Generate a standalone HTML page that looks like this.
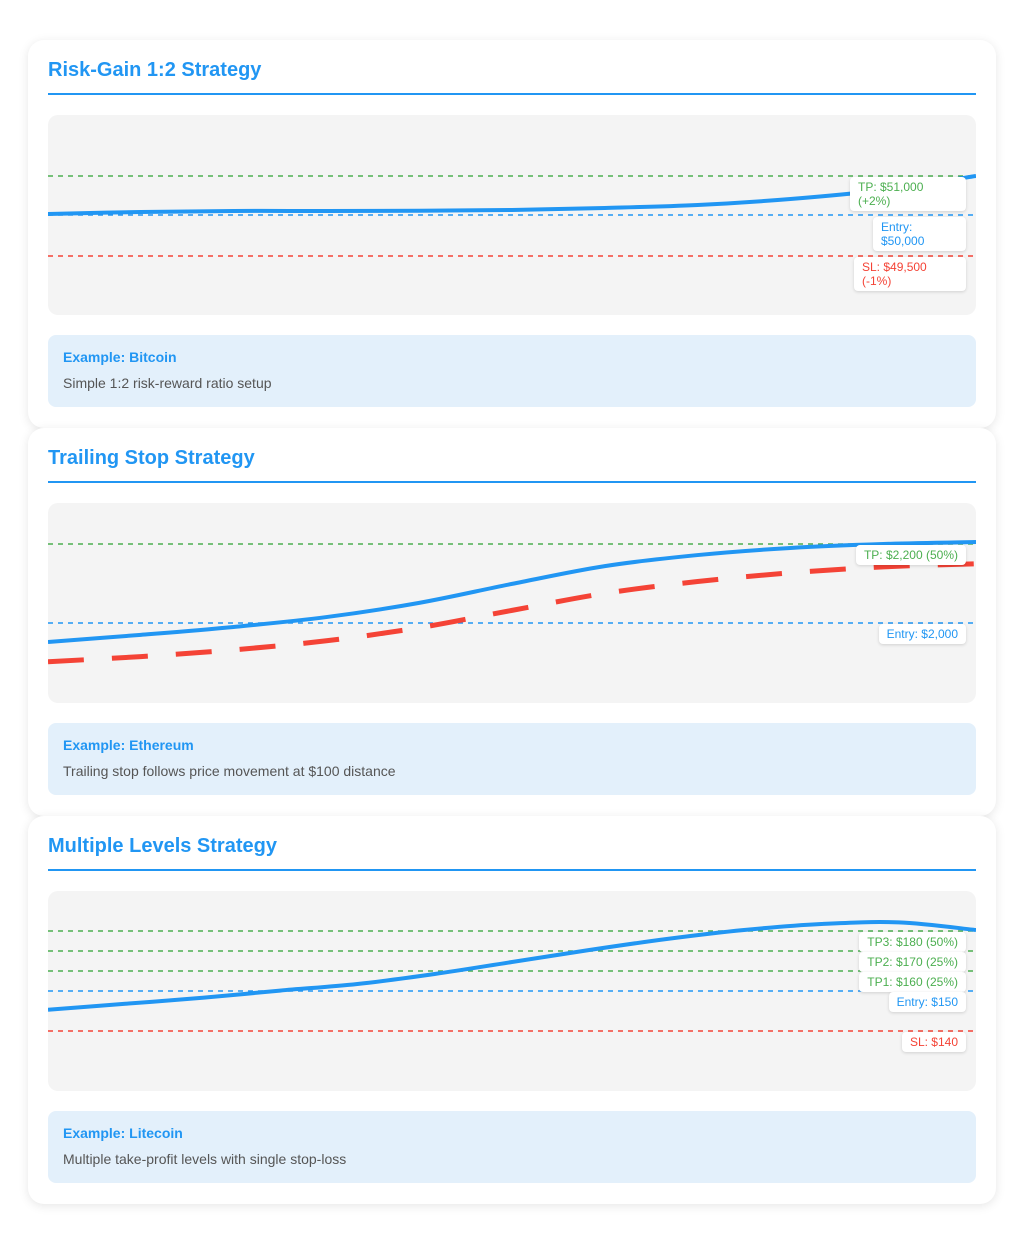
<!DOCTYPE html>
<html><head><meta charset="utf-8">
<style>
*{box-sizing:border-box;margin:0;padding:0}
body{width:1024px;height:1244px;background:#fff;font-family:"Liberation Sans",Arial,sans-serif;position:relative;overflow:hidden}
.card{position:absolute;left:28px;width:968px;height:388px;background:#fff;border-radius:16px;box-shadow:0 2px 10px rgba(0,0,0,0.1);padding:20px}
.card h2{font-size:20px;color:#2196f3;font-weight:bold;height:35px;line-height:20px;padding-top:0;border-bottom:2px solid #2196f3}
.chart{position:relative;margin-top:20px;height:200px;background:#f4f4f4;border-radius:10px;overflow:hidden}
.chart svg{position:absolute;left:0;top:0}
.lbl{position:absolute;right:10px;background:#fff;border-radius:4px;box-shadow:0 1px 3px rgba(0,0,0,0.15);font-size:12px;line-height:14px;padding:3px 8px}
.info{margin-top:20px;height:72px;background:#e3f0fb;border-radius:8px;padding:14px 15px}
.info b{display:block;color:#2196f3;font-size:14px;line-height:16px}
.info p{color:#555;font-size:14px;line-height:16px;margin-top:10px}
.g{color:#4caf50}.b{color:#2196f3}.r{color:#f44336}
</style></head><body>

<div class="card" style="top:40px">
<h2>Risk-Gain 1:2 Strategy</h2>
<div class="chart" id="c1">
<div class="lbl g" style="top:62px;width:116px">TP: $51,000 (+2%)</div>
<div class="lbl b" style="top:102px;width:93px">Entry: $50,000</div>
<div class="lbl r" style="top:142px;width:112px">SL: $49,500 (-1%)</div>
</div>
<div class="info"><b>Example: Bitcoin</b><p>Simple 1:2 risk-reward ratio setup</p></div>
</div>

<div class="card" style="top:428px">
<h2>Trailing Stop Strategy</h2>
<div class="chart" id="c2">
<div class="lbl g" style="top:42px">TP: $2,200 (50%)</div>
<div class="lbl b" style="top:121px">Entry: $2,000</div>
</div>
<div class="info"><b>Example: Ethereum</b><p>Trailing stop follows price movement at $100 distance</p></div>
</div>

<div class="card" style="top:816px">
<h2>Multiple Levels Strategy</h2>
<div class="chart" id="c3">
<div class="lbl g" style="top:41px">TP3: $180 (50%)</div>
<div class="lbl g" style="top:61px">TP2: $170 (25%)</div>
<div class="lbl g" style="top:81px">TP1: $160 (25%)</div>
<div class="lbl b" style="top:101px">Entry: $150</div>
<div class="lbl r" style="top:141px">SL: $140</div>
</div>
<div class="info"><b>Example: Litecoin</b><p>Multiple take-profit levels with single stop-loss</p></div>
</div>

<script>
// Chart 1 data
const c1Levels = [51000, 50000, 49500];
const c1LevelColors = ['#4caf50', '#2196f3', '#f44336'];
const c1LevelNames = ['tp-line', 'entry-line', 'sl-line'];
const c1Price = [50026, 50077, 50103, 50103, 50110, 50128, 50180, 50256, 50410, 50641, 51000];
// Chart 2 data
const c2Levels = [2200, 2000];
const c2LevelColors = ['#4caf50', '#2196f3'];
const c2LevelNames = ['tp-line', 'entry-line'];
const c2Price = [1952, 1970, 1990, 2015, 2051, 2099, 2144, 2172, 2190, 2200, 2205];
const c2Stop = [1902, 1915, 1932, 1955, 1988, 2032, 2075, 2105, 2127, 2142, 2150];
// Chart 3 data
const c3Levels = [180, 170, 160, 150, 140];
const c3LevelColors = ['#4caf50', '#4caf50', '#4caf50', '#2196f3', '#f44336'];
const c3LevelNames = ['tp3-line', 'tp2-line', 'tp1-line', 'entry-line', 'sl-line'];
const c3Price = [145.3, 146.8, 148.3, 150.2, 153.5, 158.5, 164.5, 170.5, 176, 180.5, 183.5, 184.3, 180.5];

const W = 928, H = 200, NS = 'http://www.w3.org/2000/svg';
function piecewise(domain, range) {
  return v => {
    for (let i = 0; i < domain.length - 1; i++) {
      const d0 = domain[i], d1 = domain[i + 1];
      if ((v >= Math.min(d0, d1) && v <= Math.max(d0, d1)) || i === domain.length - 2) {
        return range[i] + (v - d0) / (d1 - d0) * (range[i + 1] - range[i]);
      }
    }
  };
}
function smoothPath(pts) {
  let d = 'M' + pts[0][0] + ',' + pts[0][1];
  for (let i = 0; i < pts.length - 1; i++) {
    const p0 = pts[i - 1] || pts[i], p1 = pts[i], p2 = pts[i + 1], p3 = pts[i + 2] || p2;
    const c1x = p1[0] + (p2[0] - p0[0]) / 6, c1y = p1[1] + (p2[1] - p0[1]) / 6;
    const c2x = p2[0] - (p3[0] - p1[0]) / 6, c2y = p2[1] - (p3[1] - p1[1]) / 6;
    d += ' C' + c1x + ',' + c1y + ' ' + c2x + ',' + c2y + ' ' + p2[0] + ',' + p2[1];
  }
  return d;
}
function build(id, levels, colors, names, series, y) {
  const host = document.getElementById(id);
  const svg = document.createElementNS(NS, 'svg');
  svg.setAttribute('width', W); svg.setAttribute('height', H);
  
  
  host.insertBefore(svg, host.firstChild);
  levels.forEach((v, i) => {
    const l = document.createElementNS(NS, 'line');
    l.setAttribute('x1', 0); l.setAttribute('x2', W);
    l.setAttribute('y1', y(v)); l.setAttribute('y2', y(v));
    l.setAttribute('stroke', colors[i]); l.setAttribute('stroke-width', 1.5);
    l.setAttribute('stroke-dasharray', '5,5');
    
    
    svg.appendChild(l);
  });
  series.forEach(s => {
    const x = i => i / (s.data.length - 1) * W;
    const p = document.createElementNS(NS, 'path');
    p.setAttribute('d', smoothPath(s.data.map((v, i) => [x(i), y(v)])));
    p.setAttribute('fill', 'none'); p.setAttribute('stroke', s.color);
    p.setAttribute('stroke-width', s.width);
    if (s.dash) p.setAttribute('stroke-dasharray', s.dash);
    
    
    svg.appendChild(p);
  });
}
build('c1', c1Levels, c1LevelColors, c1LevelNames,
  [{data: c1Price, color: '#2196f3', width: 4, name: 'price-line'}],
  piecewise([49500, 50000, 51000], [141, 100, 61]));
build('c2', c2Levels, c2LevelColors, c2LevelNames,
  [{data: c2Stop, color: '#f44336', width: 5, dash: '36,28', name: 'trailing-stop-line'},
   {data: c2Price, color: '#2196f3', width: 4, name: 'price-line'}],
  v => 120 - (v - 2000) * 0.395);
build('c3', c3Levels, c3LevelColors, c3LevelNames,
  [{data: c3Price, color: '#2196f3', width: 4, name: 'price-line'}],
  piecewise([140, 150, 180], [140, 100, 40]));
</script>
</body></html>
